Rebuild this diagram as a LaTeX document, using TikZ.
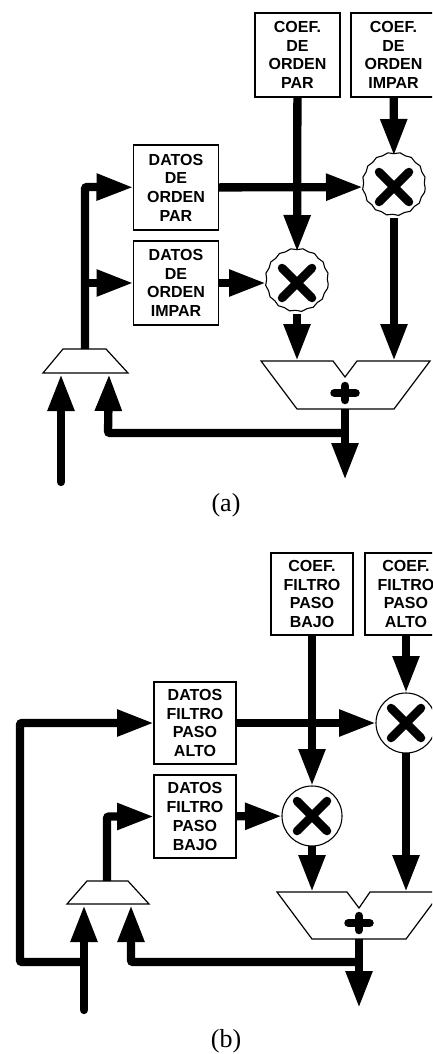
\documentclass[tikz,border=0pt]{standalone}
\usepackage{fontspec}
\setmainfont{Liberation Sans}
\newfontfamily\captionfont{Liberation Serif}
\usetikzlibrary{arrows.meta, decorations.pathmorphing}

\begin{document}
\begin{tikzpicture}[x=1pt, y=-1pt, >={Triangle[length=37pt,width=25pt]},
    store/.style={rectangle, draw, line width=1.3pt, outer sep=0pt, inner sep=0pt, align=center,
                  font=\fontsize{16}{18.7}\selectfont\bfseries},
    mult/.style={circle, draw, line width=1.1pt, fill=white, minimum size=60pt, inner sep=0pt, outer sep=0pt},
    bumpy/.style={minimum size=62pt, decorate, decoration={snake, segment length=12pt, amplitude=0.7pt}},
    bus/.style={line width=8.3pt},
    outline/.style={draw, line width=1.2pt, line join=miter},
    glyph/.style={line width=8.5pt, line cap=round},
    caption/.style={font=\fontsize{26}{26}\captionfont}]
  \clip (0,0) rectangle (432,1054);

  % ---- panel (a) ----
  \node[store, minimum width=85pt, minimum height=84pt] (cpar) at (297.5,55)  {COEF.\\DE\\ORDEN\\PAR};
  \node[store, minimum width=85pt, minimum height=84pt] (cimp) at (393.5,55)  {COEF.\\DE\\ORDEN\\IMPAR};
  \node[store, minimum width=85pt, minimum height=85pt] (dpar) at (176,187.5) {DATOS\\DE\\ORDEN\\PAR};
  \node[store, minimum width=85pt, minimum height=84pt] (dimp) at (176,283)   {DATOS\\DE\\ORDEN\\IMPAR};
  \node[mult, bumpy] (mtop) at (394,187) {};
  \node[mult, bumpy] (mlow) at (297,283) {};

  % mux and adder outlines
  \draw[outline] (43,373) -- (63,349) -- (106,349) -- (128,373) -- cycle;
  \draw[outline] (261,361) -- (333,361) -- (345,377) -- (357,361) -- (430,361)
                 -- (394,409) -- (297,409) -- cycle;
  \coordinate (muxout) at (85,349);
  \coordinate (muxa)   at (61,374);
  \coordinate (muxb)   at (109,374);
  \coordinate (adda)   at (297,361);
  \coordinate (addb)   at (394,361);
  \coordinate (addout) at (345,409);
  \coordinate (end)    at (345,480);
  \coordinate (start)  at (61,482);

  % x and + marks
  \draw[glyph] (379,172) -- (409,202) (409,172) -- (379,202);
  \draw[glyph] (282,268) -- (312,298) (312,268) -- (282,298);
  \draw[glyph] (334.5,393) -- (355.5,393) (345,386) -- (345,400);

  % coefficients and data into the multipliers
  \draw[->, bus] (cpar) -- (mlow);
  \draw[->, bus] (cimp) -- (mtop);
  \draw[->, bus] (dpar) -- (mtop);
  \draw[->, bus] (dimp) -- (mlow);

  % multipliers -> adder
  \draw[->, bus] (mlow) -- (adda);
  \draw[->, bus] (mtop) -- (addb);

  % mux -> data
  \draw[->, bus, rounded corners=2pt] (muxout) -- (85,187) -- (dpar);
  \draw[->, bus] (85,283) -- (dimp);

  % adder -> output and feedback
  \draw[->, bus] (addout) -- (end);
  \draw[->, bus, rounded corners=2pt] (345,433) -- (108,433) -- (muxb);
  \draw[->, bus, line cap=round] (start) -- (muxa);

  \node[caption] (capa) at (226,505) {(a)};

  % ---- panel (b) ----
  \node[store, minimum width=82pt, minimum height=82pt] (clow) at (312,594)   {COEF.\\FILTRO\\PASO\\BAJO};
  \node[store, minimum width=82pt, minimum height=82pt] (chig) at (406,594)   {COEF.\\FILTRO\\PASO\\ALTO};
  \node[store, minimum width=82pt, minimum height=82pt] (dhig) at (195,723)   {DATOS\\FILTRO\\PASO\\ALTO};
  \node[store, minimum width=82pt, minimum height=83pt] (dlow) at (195,816.5) {DATOS\\FILTRO\\PASO\\BAJO};
  \node[mult] (nhig) at (406,723) {};
  \node[mult] (nlow) at (312,816) {};

  % mux and adder outlines
  \draw[outline] (67,904) -- (87,881) -- (128,881) -- (149,904) -- cycle;
  \draw[outline] (277,892) -- (347,892) -- (359,908) -- (370,892) -- (441,892)
                 -- (406,939) -- (312,939) -- cycle;
  \coordinate (pmuxout) at (107,881);
  \coordinate (pmuxa)   at (84,905);
  \coordinate (pmuxb)   at (131,905);
  \coordinate (padda)   at (312,892);
  \coordinate (paddb)   at (406,892);
  \coordinate (paddout) at (359,939);
  \coordinate (pend)    at (359,1008);
  \coordinate (pstart)  at (84,1010);

  % x and + marks
  \draw[glyph] (391,708) -- (421,738) (421,708) -- (391,738);
  \draw[glyph] (297,801) -- (327,831) (327,801) -- (297,831);
  \draw[glyph] (348.5,923) -- (369.5,923) (359,916) -- (359,930);

  % coefficients and data into the multipliers
  \draw[->, bus] (clow) -- (nlow);
  \draw[->, bus] (chig) -- (nhig);
  \draw[->, bus] (dhig) -- (nhig);
  \draw[->, bus] (dlow) -- (nlow);

  % multipliers -> adder
  \draw[->, bus] (nlow) -- (padda);
  \draw[->, bus] (nhig) -- (paddb);

  % mux -> data and bypass
  \draw[->, bus, rounded corners=2pt] (pmuxout) -- (107,816.5) -- (dlow);
  \draw[->, bus, rounded corners=2pt] (84,962) -- (20,962) -- (20,723) -- (dhig);

  % adder -> output and feedback
  \draw[->, bus] (paddout) -- (pend);
  \draw[->, bus, rounded corners=2pt] (359,962) -- (131,962) -- (pmuxb);
  \draw[->, bus, line cap=round] (pstart) -- (pmuxa);

  \node[caption] (capb) at (226,1041) {(b)};
\end{tikzpicture}
\end{document}
